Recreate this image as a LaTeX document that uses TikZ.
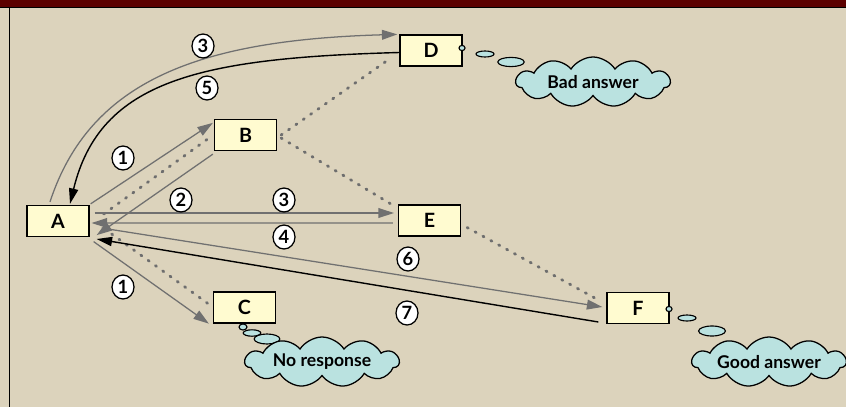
\documentclass[tikz,border=0pt]{standalone}
\usepackage{fontspec}
\setmainfont{Lato}
\usepackage{xcolor}
\usepackage{tikz}
\usetikzlibrary{arrows.meta, calc, shapes.geometric, shapes.symbols}
\definecolor{bgbeige}{HTML}{DCD3BC}
\definecolor{topbar}{HTML}{5C0000}
\definecolor{boxfill}{HTML}{FFFBD0}
\definecolor{cloudfill}{HTML}{BAE2E0}
\definecolor{msggray}{HTML}{707070}
\definecolor{dotgray}{HTML}{6E6E6E}

\tikzset{
  peer/.style={draw, line width=0.9pt, fill=boxfill, minimum width=1.55cm,
    minimum height=0.775cm, inner sep=0pt, font=\fontsize{14}{16}\selectfont\bfseries},
  numlbl/.style={ellipse, draw, line width=0.9pt, fill=white, minimum width=0.55cm,
    minimum height=0.6cm, inner sep=0pt, font=\fontsize{13}{15}\selectfont\bfseries},
  msg/.style={-{Triangle[length=11pt,width=7pt]}, msggray, line width=0.9pt},
  reply/.style={-{Triangle[length=11pt,width=6.5pt]}, black, line width=1pt},
  probe/.style={dotgray, line width=2pt, line cap=round, dash pattern=on 0.9pt off 5.5pt},
  thought/.style={cloud, cloud puffs=11, cloud puff arc=115, cloud ignores aspect,
    draw, line width=0.9pt, fill=cloudfill, minimum width=3.85cm, minimum height=1.25cm,
    inner sep=0pt, font=\fontsize{12.5}{14}\selectfont\bfseries},
  bubble/.style={draw, line width=0.8pt, fill=cloudfill}
}

\begin{document}
\begin{tikzpicture}[x=0.025cm, y=-0.025cm]
  % background and frame
  \fill[bgbeige] (0,0) rectangle (846,407);
  \useasboundingbox (0,0) rectangle (846,407);
  \fill[topbar] (0,0) rectangle (846,7.5);
  \draw[line width=0.8pt] (0,7.5) -- (846,7.5);
  \draw[line width=0.8pt] (9.5,7.5) -- (9.5,407);

  % peers
  \node[peer] (A) at (58,221) {A};
  \node[peer] (B) at (245.5,135) {B};
  \node[peer] (C) at (244.5,307.5) {C};
  \node[peer] (D) at (431,50.5) {D};
  \node[peer] (E) at (429.5,220.5) {E};
  \node[peer] (F) at (638,308) {F};

  % dotted links
  \draw[probe] ($(A.east)+(14,-7)$) -- ($(B.west)+(-2,1)$);
  \draw[probe] ($(A.east)+(22,13)$) -- ($(C.west)+(-5,-4)$);
  \draw[probe] ($(B.east)+(4,0)$) -- ($(D.south west)+(-8,-9)$);
  \draw[probe] ($(B.east)+(4,3)$) -- ($(E.north west)+(-3,2)$);
  \draw[probe] ($(E.east)+(6,7)$) -- ($(F.north west)+(-10,7)$);

  % messages
  \draw[msg] ($(A.north)+(-8,-3)$) .. controls (90,80) and (200,40) .. ($(D.north west)+(-2,0)$);
  \draw[reply] ($(D.west)+(0,2)$) .. controls (200,58) and (100,80) .. ($(A.north)+(12,-1)$);
  \draw[msg] ($(A.north east)+(1,-1)$) -- ($(B.north west)+(-1,4)$);
  \draw[msg] ($(B.south west)+(-1,3)$) -- ($(A.south east)+(7,-2)$);
  \draw[msg] ($(A.east)+(5,-8)$) -- ($(E.west)+(-4,-7.5)$);
  \draw[msg] ($(E.west)+(-5,2.5)$) -- ($(A.east)+(2,2)$);
  \draw[msg] ($(A.east)+(12,7)$) -- ($(F.west)+(-4,-1)$);
  \draw[reply] ($(F.west)+(-8,14)$) -- ($(A.east)+(7,18)$);
  \draw[msg] ($(A.south east)+(4,4.5)$) -- ($(C.south west)+(-4,0)$);

  % step numbers
  \node[numlbl] (n3a) at (203,46) {3};
  \node[numlbl] (n5) at (207,88) {5};
  \node[numlbl] (n1a) at (123,158) {1};
  \node[numlbl] (n2) at (181,200) {2};
  \node[numlbl] (n3b) at (284,200) {3};
  \node[numlbl] (n4) at (284,237) {4};
  \node[numlbl] (n6) at (408,259) {6};
  \node[numlbl] (n7) at (407,313) {7};
  \node[numlbl] (n1b) at (123,287) {1};

  % thought bubbles
  \draw[bubble] (462,48) ellipse [x radius=0.075cm, y radius=0.065cm];
  \draw[bubble] (485,54) ellipse [x radius=0.225cm, y radius=0.075cm];
  \draw[bubble] (511,62) ellipse [x radius=0.33cm, y radius=0.115cm];
  \node[thought] (bad) at (593,82) {Bad answer};

  \draw[bubble] (243,327) ellipse [x radius=0.1cm, y radius=0.075cm];
  \draw[bubble] (252,333) ellipse [x radius=0.22cm, y radius=0.08cm];
  \draw[bubble] (267,339) ellipse [x radius=0.32cm, y radius=0.125cm];
  \node[thought] (nores) at (322,362) {No response};

  \draw[bubble] (669,309) ellipse [x radius=0.075cm, y radius=0.065cm];
  \draw[bubble] (687,318) ellipse [x radius=0.225cm, y radius=0.075cm];
  \draw[bubble] (712,331) ellipse [x radius=0.335cm, y radius=0.125cm];
  \node[thought] (good) at (769,362) {Good answer};
\end{tikzpicture}
\end{document}
